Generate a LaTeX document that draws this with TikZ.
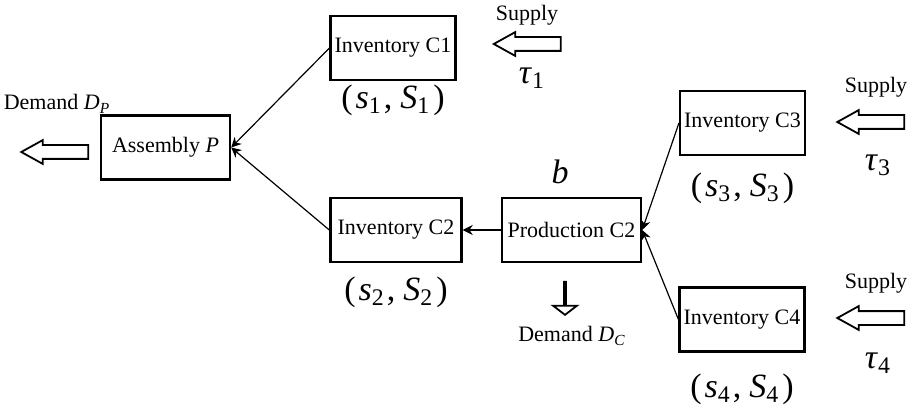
\documentclass[tikz,border=0pt]{standalone}
\usepackage{fontspec}
\setmainfont{Liberation Serif}
\usetikzlibrary{arrows.meta, positioning, shapes.arrows}

\newcommand{\pairlabel}[1]{(\kern1.5pt\textit{s}\textsubscript{#1}\kern1pt,\kern4pt\textit{S}\textsubscript{#1}\kern1.5pt)}

\begin{document}
\begin{tikzpicture}[
    x=0.5pt, y=-0.5pt,
    font=\fontsize{11}{13}\selectfont,
    node distance=2pt,
    stockbox/.style={
        rectangle,
        draw,
        line width=1.2pt,
        align=center,
        inner xsep=2pt,
        minimum width=61pt,
        minimum height=32pt
    },
    flowarrow/.style={
        single arrow,
        draw,
        line width=0.9pt,
        inner sep=0pt,
        inner ysep=3pt,
        minimum height=33.5pt,
        single arrow head extend=2.5pt,
        single arrow tip angle=58,
        shape border rotate=180
    },
    mathlabel/.style={font=\fontsize{17}{20}\selectfont, inner sep=0pt},
    arrow/.style={-{Stealth[length=5pt, width=5pt]}, line width=0.6pt}
]

\useasboundingbox (0,0) rectangle (913,411);

\node[stockbox, minimum width=64.5pt] (assembly) at (165.5,147.5) {Assembly \textit{P}};
\node[stockbox] (inv1) at (393,48) {Inventory C1};
\node[stockbox, minimum width=65.5pt] (inv2) at (396,230) {Inventory C2};
\node[stockbox, minimum width=69.5pt] (prod) at (571.5,230) {Production C2};
\node[stockbox] (inv3) at (742.5,123) {Inventory C3};
\node[stockbox] (inv4) at (742,319.5) {Inventory C4};

\node[mathlabel, below=1.5pt of inv1] (pair1) {\pairlabel{1}};
\node[mathlabel, below=6.5pt of inv2] (pair2) {\pairlabel{2}};
\node[mathlabel, below=8pt of inv3] (pair3) {\pairlabel{3}};
\node[mathlabel, below=10.5pt of inv4] (pair4) {\pairlabel{4}};
\node[mathlabel] (batch) at (560,172) {\textit{b}};

\node[flowarrow] (demandP) at (61,152) {};
\node[flowarrow] (supply1) at (533.5,44) {};
\node[flowarrow] (supply3) at (877,122) {};
\node[flowarrow] (supply4) at (877,318) {};
\node[flowarrow, inner ysep=1.75pt, minimum height=16.5pt,
      single arrow head extend=5.5pt, single arrow tip angle=105,
      shape border rotate=270] (demandC) at (565,298) {};

\node (demandPtext) at (57,104) {Demand \textit{D}\textsubscript{\textit{P}}};
\node (demandCtext) at (572,336) {Demand \textit{D}\textsubscript{\textit{C}}};
\node (supply1text) at (527,15) {Supply};
\node (supply3text) at (876,87) {Supply};
\node (supply4text) at (876,283) {Supply};
\node[mathlabel] (tau1) at (532,78) {\textit{τ}\textsubscript{1}};
\node[mathlabel] (tau3) at (878,165) {\textit{τ}\textsubscript{3}};
\node[mathlabel] (tau4) at (878,363) {\textit{τ}\textsubscript{4}};

\draw[arrow] (inv1.west) -- (assembly.east);
\draw[arrow] (inv2.west) -- (assembly.east);
\draw[arrow] (prod.west) -- (inv2.east);
\draw[arrow] (inv3.west) -- (prod.east);
\draw[arrow] (inv4.west) -- (prod.east);

\end{tikzpicture}
\end{document}
